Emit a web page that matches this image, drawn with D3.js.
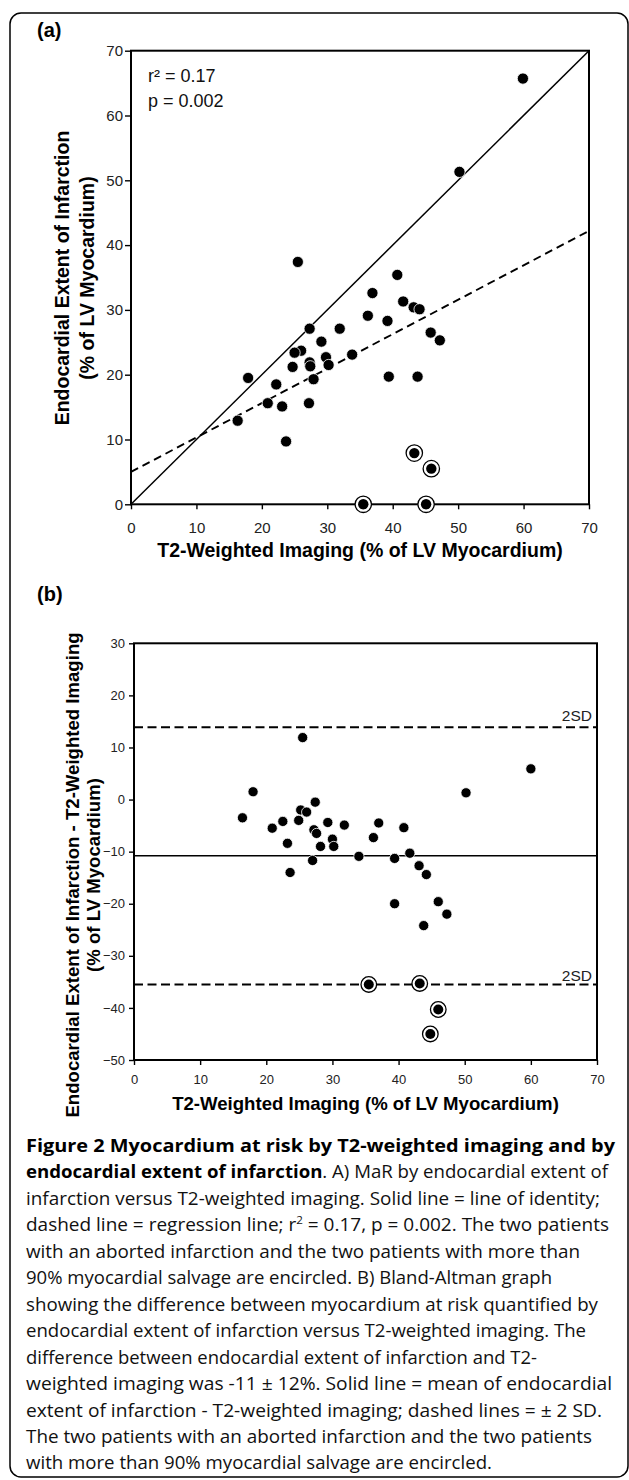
<!DOCTYPE html>
<html><head><meta charset="utf-8">
<script src="https://cdn.jsdelivr.net/npm/d3@7"></script>
<style>body{margin:0;background:#fff}svg{display:block}</style>
</head><body>
<svg id="c" width="629" height="1480"></svg>
<script>
// ---------------- DATA ----------------
const xTicks = [0, 10, 20, 30, 40, 50, 60, 70];
const yTicksA = [0, 10, 20, 30, 40, 50, 60, 70];
const yTicksB = [-50, -40, -30, -20, -10, 0, 10, 20, 30];

// Panel (a): T2-weighted MaR vs endocardial extent of infarction
const t2A   = [25.5, 40.7, 36.9, 41.6, 43.2, 44.1, 36.2, 39.2, 27.3, 31.9, 45.8, 47.2, 29.1, 26.0, 25.0, 33.8, 29.8,
               27.3, 24.7, 27.4, 30.2, 27.9, 39.4, 43.8, 17.9, 22.2, 20.9, 23.1, 27.2, 16.3, 23.7, 59.9, 50.2];
const endoA = [37.4, 35.4, 32.6, 31.3, 30.4, 30.1, 29.1, 28.3, 27.1, 27.1, 26.5, 25.3, 25.1, 23.7, 23.4, 23.1, 22.7,
               21.9, 21.2, 21.3, 21.5, 19.3, 19.7, 19.7, 19.5, 18.5, 15.6, 15.1, 15.6, 12.9, 9.7, 65.7, 51.3];
const t2ACircled   = [35.5, 45.1, 43.3, 45.9];
const endoACircled = [0.0, 0.0, 7.9, 5.5];
const identityX = [0, 70], identityY = [0, 70];
const regressionX = [0, 70], regressionY = [5.0, 42.2];
const statsText = ["r² = 0.17", "p = 0.002"];

// Panel (b): Bland-Altman
const t2B   = [18.0, 50.2, 16.4, 27.4, 25.2, 26.1, 22.5, 24.9, 20.9, 29.3, 31.8, 37.0, 27.2, 27.6, 40.8, 23.2, 30.0,
               36.2, 28.2, 30.2, 34.0, 41.7, 39.4, 27.0, 43.1, 23.6, 44.2, 39.4, 46.0, 47.3, 43.8, 25.5, 60.0];
const diffB = [1.5, 1.3, -3.5, -0.5, -2.0, -2.4, -4.2, -4.0, -5.5, -4.4, -4.9, -4.5, -5.8, -6.5, -5.4, -8.4, -7.6,
               -7.3, -9.0, -9.0, -10.9, -10.3, -11.3, -11.7, -12.7, -14.0, -14.4, -20.0, -19.6, -22.0, -24.2, 11.9, 5.9];
const t2BCircled   = [35.5, 43.2, 46.0, 44.8];
const diffBCircled = [-35.5, -35.3, -40.3, -45.0];
const baMean = -10.8, baUpper = 13.9, baLower = -35.5;
const sdLabel = "2SD";

const xTitle = "T2-Weighted Imaging (% of LV Myocardium)";
const yTitleA = ["Endocardial Extent of Infarction", "(% of LV Myocardium)"];
const yTitleB = ["Endocardial Extent of Infarction - T2-Weighted Imaging", "(% of LV Myocardium)"];

// caption: segments [text, kind] kind: b=bold, n=normal, s=superscript
const captionLines = [
  [["Figure 2 Myocardium at risk by T2-weighted imaging and by", "b"]],
  [["endocardial extent of infarction", "b"], [". A) MaR by endocardial extent of", "n"]],
  [["infarction versus T2-weighted imaging. Solid line = line of identity;", "n"]],
  [["dashed line = regression line; r", "n"], ["2", "s"], [" = 0.17, p = 0.002. The two patients", "n"]],
  [["with an aborted infarction and the two patients with more than", "n"]],
  [["90% myocardial salvage are encircled. B) Bland-Altman graph", "n"]],
  [["showing the difference between myocardium at risk quantified by", "n"]],
  [["endocardial extent of infarction versus T2-weighted imaging. The", "n"]],
  [["difference between endocardial extent of infarction and T2-", "n"]],
  [["weighted imaging was -11 ± 12%. Solid line = mean of endocardial", "n"]],
  [["extent of infarction - T2-weighted imaging; dashed lines = ± 2 SD.", "n"]],
  [["The two patients with an aborted infarction and the two patients", "n"]],
  [["with more than 90% myocardial salvage are encircled.", "n"]]
];
// layout: right end of each caption line in the reference
const captionRight = [615, 608, 600, 609, 580, 552, 598, 586, 537, 612, 602, 592, 492];

// ---------------- DRAW ----------------
const svg = d3.select("#c");
const SANS = "'Liberation Sans', Arial, sans-serif";

svg.append("rect").attr("x", 10).attr("y", 13).attr("width", 618).attr("height", 1464)
  .attr("rx", 11).attr("fill", "#fff").attr("stroke", "#000").attr("stroke-width", 1.5);

function panel(o) {
  const g = svg.append("g");
  const x = d3.scaleLinear([0, 70], [o.x0, o.x1]);
  const y = d3.scaleLinear(o.yDomain, [o.yb, o.yt]);

  g.append("text").attr("x", 37).attr("y", o.labelY).attr("font-family", SANS)
    .attr("font-weight", 700).attr("font-size", 20).text(o.label);

  const ax = g.append("g").attr("transform", `translate(0,${o.yb})`)
    .call(d3.axisBottom(x).tickValues(xTicks).tickSize(5).tickPadding(o.xPad).tickFormat(d3.format("d")));
  const ay = g.append("g").attr("transform", `translate(${o.x0},0)`)
    .call(d3.axisLeft(y).tickValues(o.yTicks).tickSize(o.yTick).tickPadding(o.yPad).tickFormat(d3.format("d")));
  [ax, ay].forEach(a => {
    a.select(".domain").remove();
    a.selectAll("line").attr("stroke", "#000").attr("stroke-width", 1.4);
    a.selectAll("text").attr("font-family", SANS).attr("font-size", o.tickFont).attr("fill", "#222");
  });

  g.append("rect").attr("x", o.x0).attr("y", o.yt).attr("width", o.x1 - o.x0).attr("height", o.yb - o.yt)
    .attr("fill", "none").attr("stroke", "#000").attr("stroke-width", 2);

  g.append("text").attr("x", (o.x0 + o.x1) / 2).attr("y", o.xTitleY).attr("text-anchor", "middle")
    .attr("font-family", SANS).attr("font-weight", 700).attr("font-size", o.titleFont).text(xTitle);
  o.yTitle.forEach((t, i) => {
    g.append("text").attr("transform", `translate(${o.yTitleX[i]},${o.yTitleC}) rotate(-90)`)
      .attr("text-anchor", "middle").attr("font-family", SANS).attr("font-weight", 700)
      .attr("font-size", o.titleFont).text(t);
  });
  return { g, x, y };
}

function dots(g, x, y, xs, ys, r) {
  g.append("g").selectAll("circle").data(xs.map((v, i) => [v, ys[i]])).join("circle")
    .attr("cx", d => x(d[0])).attr("cy", d => y(d[1])).attr("r", r)
    .attr("fill", "#000").attr("stroke", "#fff").attr("stroke-width", 0.8);
}
function circled(g, x, y, xs, ys, r, R) {
  const c = g.append("g").selectAll("g").data(xs.map((v, i) => [v, ys[i]])).join("g")
    .attr("transform", d => `translate(${x(d[0])},${y(d[1])})`);
  c.append("circle").attr("r", R).attr("fill", "#fff").attr("stroke", "#000").attr("stroke-width", 1.3);
  c.append("circle").attr("r", r).attr("fill", "#000");
}

// Panel (a)
const A = panel({
  label: "(a)", labelY: 37, x0: 131, x1: 589, yt: 50.7, yb: 504.3, yDomain: [0, 70], yTicks: yTicksA,
  yTick: 6, yPad: 2, xPad: 13, tickFont: 15, titleFont: 19.5, xTitleY: 556.5,
  yTitle: yTitleA, yTitleX: [69, 94], yTitleC: 278
});
const line = d3.line().x(d => A.x(d[0])).y(d => A.y(d[1]));
A.g.append("path").attr("d", line(identityX.map((v, i) => [v, identityY[i]])))
  .attr("fill", "none").attr("stroke", "#000").attr("stroke-width", 1.5);
A.g.append("path").attr("d", line(regressionX.map((v, i) => [v, regressionY[i]])))
  .attr("fill", "none").attr("stroke", "#000").attr("stroke-width", 1.9).attr("stroke-dasharray", "8,5");
statsText.forEach((t, i) => {
  A.g.append("text").attr("x", 148).attr("y", 82 + i * 25).attr("font-family", SANS)
    .attr("font-size", 18).attr("fill", "#111").text(t);
});
dots(A.g, A.x, A.y, t2A, endoA, 5.6);
circled(A.g, A.x, A.y, t2ACircled, endoACircled, 5.2, 8.2);

// Panel (b)
const B = panel({
  label: "(b)", labelY: 601, x0: 134, x1: 597, yt: 643.3, yb: 1060, yDomain: [-50, 30], yTicks: yTicksB,
  yTick: 5, yPad: 4, xPad: 10, tickFont: 13, titleFont: 18.6, xTitleY: 1110,
  yTitle: yTitleB, yTitleX: [79, 100], yTitleC: 875
});
const hline = (v, dash, w) => B.g.append("line").attr("x1", B.x(0)).attr("x2", B.x(70))
  .attr("y1", B.y(v)).attr("y2", B.y(v)).attr("stroke", "#000").attr("stroke-width", w)
  .attr("stroke-dasharray", dash);
hline(baMean, null, 1.6);
hline(baUpper, "9,4.5", 2);
hline(baLower, "9,4.5", 2);
B.g.append("text").attr("x", 592).attr("y", B.y(baUpper) - 6).attr("text-anchor", "end")
  .attr("font-family", SANS).attr("font-size", 15.5).attr("fill", "#222").text(sdLabel);
B.g.append("text").attr("x", 592).attr("y", B.y(baLower) - 3.5).attr("text-anchor", "end")
  .attr("font-family", SANS).attr("font-size", 15.5).attr("fill", "#222").text(sdLabel);
dots(B.g, B.x, B.y, t2B, diffB, 5.1);
circled(B.g, B.x, B.y, t2BCircled, diffBCircled, 5.0, 7.8);

// Caption
const capX = 26;
const cap = svg.append("g").attr("font-family", "'Open Sans', 'Noto Sans', sans-serif")
  .attr("font-size", 18).attr("fill", "#111");
const capY0 = 1152, capDy = 26.45;
captionLines.forEach((segs, i) => {
  const t = cap.append("text").attr("x", capX).attr("y", capY0 + i * capDy);
  let shifted = false;
  segs.forEach(([s, k]) => {
    const ts = t.append("tspan").text(s);
    if (k === "b") ts.attr("font-weight", 700).attr("fill", "#000");
    if (k === "s") { ts.attr("font-size", 11).attr("dy", -7); shifted = true; }
    else if (shifted) { ts.attr("dy", 7); shifted = false; }
  });
  t.attr("textLength", captionRight[i] - capX).attr("lengthAdjust", "spacingAndGlyphs");
});
</script>
</body></html>
